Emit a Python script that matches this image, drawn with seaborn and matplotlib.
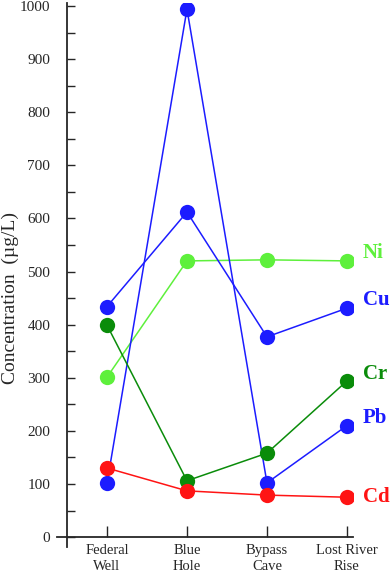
import numpy as np
import pandas as pd
import matplotlib
matplotlib.use('Agg')
import matplotlib.pyplot as plt
from matplotlib.ticker import MultipleLocator
import seaborn as sns

sites = ['Federal\nWell', 'Blue\nHole', 'Bypass\nCave', 'Lost River\nRise']
ni = [301, 520, 522, 520]
pb = [101, 994, 102, 210]
cr = [399, 106, 158, 294]
cu = [434, 612, 377, 431]
cd = [130, 87, 79, 75]

metals = ['Ni', 'Pb', 'Cr', 'Cu', 'Cd']
colors = {'Ni': '#5ef03c', 'Pb': '#1c1cff', 'Cr': '#0a8c0a', 'Cu': '#1c1cff', 'Cd': '#ff1414'}
label_y = {'Ni': 535, 'Cu': 446, 'Cr': 307, 'Pb': 224, 'Cd': 75}

rows = []
for name, vals in zip(metals, [ni, pb, cr, cu, cd]):
    for i, v in enumerate(vals):
        rows.append({'pos': i, 'site': sites[i], 'metal': name, 'conc': v})
df = pd.DataFrame(rows)

sns.set_style('ticks')
plt.rcParams['font.family'] = ['Liberation Serif', 'DejaVu Serif']

fig = plt.figure(figsize=(3.92, 5.74), dpi=100)
ax = fig.add_axes([0.1464, 0.0477, 0.753, 0.9465])

sns.lineplot(data=df, x='pos', y='conc', hue='metal', hue_order=metals,
             palette=colors, marker='o', markersize=11, markeredgewidth=0,
             linewidth=1.1, sort=False, legend=False, ax=ax)

for name in metals:
    ax.text(3.2, label_y[name], name, color=colors[name], fontsize=15,
            fontweight='bold', va='center', ha='left')

ax.set_xlim(-0.62, 3.07)
ax.set_ylim(-18, 1005)
ax.spines['top'].set_visible(False)
ax.spines['right'].set_visible(False)
ax.spines['left'].set_position(('data', -0.5))
ax.spines['bottom'].set_position(('data', 0))
ax.spines['left'].set_linewidth(1.3)
ax.spines['bottom'].set_linewidth(1.3)

ax.set_xticks(range(len(sites)))
ax.set_xticklabels(sites, fontsize=10.5, linespacing=1.3)
ax.yaxis.set_major_locator(MultipleLocator(100))
ax.yaxis.set_minor_locator(MultipleLocator(50))
ax.tick_params(axis='y', which='major', direction='in', length=6, width=1, pad=12, labelsize=11)
ax.tick_params(axis='y', which='minor', direction='in', length=6, width=1)
ax.tick_params(axis='x', direction='in', length=8, width=1, pad=5)

ax.set_xlabel('')
ax.set_ylabel('Concentration  (\u00b5g/L)', fontsize=14)
ax.yaxis.set_label_coords(-0.158, 0.458)
ax.yaxis.label.set_va('center')

fig.savefig('out.png', dpi=100)
